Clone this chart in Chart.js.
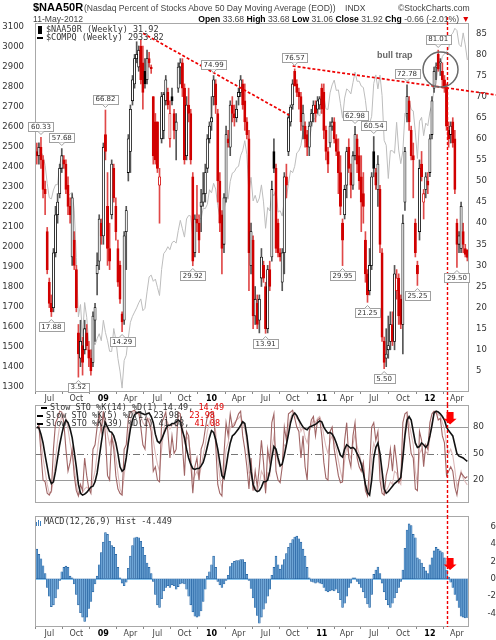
<!DOCTYPE html>
<html>
<head>
<meta charset="utf-8">
<title>$NAA50R weekly</title>
<script src="https://cdn.jsdelivr.net/npm/chart.js@4.4.1/dist/chart.umd.min.js"></script>
<style>
  html, body { margin: 0; padding: 0; background: #fff; }
  body { width: 496px; height: 640px; position: relative; overflow: hidden; }
  canvas { position: absolute; left: 0; top: 0; }
  .t { position: absolute; white-space: nowrap; z-index: 5; color: #333; }
  .hd { font: 8.6px "Liberation Sans", Arial, sans-serif; line-height: 10px; color: #444; }
  .hd b { color: #000; }
  .lg { font: 8.5px "DejaVu Sans Mono", monospace; line-height: 9px; color: #333; }
  .r { color: #e00000; }
  .dash { display: inline-block; width: 6px; height: 2px; background: #000; vertical-align: middle; margin-right: 3px; }
  .cdl { display: inline-block; width: 2px; height: 6px; border: 1px solid #000; background: #000; vertical-align: middle; margin: 0 4px 0 1px; }
  .hb { display: inline-block; width: 1px; background: #3d7fbf; margin-right: 1px; vertical-align: bottom; }
</style>
</head>
<body>
<canvas id="mainChart" width="496" height="640"></canvas>
<canvas id="stoChart" width="496" height="640"></canvas>
<canvas id="macdChart" width="496" height="640"></canvas>

<div class="t" style="left:33px;top:1px;font:bold 11px 'Liberation Sans',Arial,sans-serif;line-height:13px;color:#000">$NAA50R</div>
<div class="t hd" style="left:84px;top:3px">(Nasdaq Percent of Stocks Above 50 Day Moving Average (EOD))</div>
<div class="t hd" style="left:345px;top:3px">INDX</div>
<div class="t hd" style="left:398px;top:3px">&copy;StockCharts.com</div>
<div class="t hd" style="left:33px;top:14px">11-May-2012</div>
<div class="t hd" style="right:26px;top:14px"><b>Open</b> 33.68 <b>High</b> 33.68 <b>Low</b> 31.06 <b>Close</b> 31.92 <b>Chg</b> -0.66 (-2.01%) <span class="r">&#9660;</span></div>

<div class="t lg" style="left:37px;top:25px"><span class="cdl"></span>$NAA50R (Weekly) 31.92</div>
<div class="t lg" style="left:37px;top:33px"><span class="dash"></span>$COMPQ (Weekly) 2933.82</div>

<div class="t lg" style="left:41px;top:403px"><span class="dash"></span>Slow STO %K(14) %D(1) 14.49, <span class="r">14.49</span></div>
<div class="t lg" style="left:37px;top:411px"><span class="dash"></span>Slow STO %K(5) %D(1) 23.98, <span class="r">23.98</span></div>
<div class="t lg" style="left:37px;top:419px"><span class="dash"></span>Slow STO %K(39) %D(1) 41.08, <span class="r">41.08</span></div>

<div class="t lg" style="left:36px;top:517px"><span class="hb" style="height:4px"></span><span class="hb" style="height:6px"></span><span class="hb" style="height:5px;margin-right:3px"></span>MACD(12,26,9) Hist -4.449</div>

<script>
// weekly bars, first bar = week of 23-May-2008, last = 11-May-2012
const naaOpen = [
  57,56,58,55,48,38,26,21,20,33, 42,47,53,55,54,49,44,32,36,29,
  14,8,11,10,14,10,8,7,17,28, 31,40,37,61,44,34,42,53,44,34,
  30,18.5,17,38,52,57,69,73,79,77, 82,78,76,74,79,77,70,64,64,49,
  60,62,69,71,60,70,66,62,72,77, 78,72,56,68,66,51,33,41,40,44,
  45,47,53,60,64,70,73,66,50,42, 35,46,60,58,68,66,65,70,71,73,
  69,64,60,30,36,18,21,17,27,30, 25,15,29,32,57,53,40,33,26,33,
  51,57,64,68,76,73,71,70,63,63, 61,58,64,66,68,67,68,72,71,62,
  57,59,63,64,60,57,52,40,42,49, 58,52,49,56,60,56,51,47,36,28,
  24,30,57,52,48,48,33,12,8,10, 12,16,12,24,27,22,16,45,66,69,
  62,56,40,30,38,54,45,48,50,52, 61,72,77,80,78,76,74,72,62,61,
  64,60,40,35,34,38,34,33.68
];
const naaHigh = [
  59,59,60.33,56,50,39,27,23,34,44, 47,54,57.68,56,55,51,46,47,38,30,
  16,17,13,17,16,12,10,19,21,33, 42,41,59,66.82,52,40,55,54,46,36,
  31,19,38,44,61,68,75,80,83,82, 83.5,82,79,81,80.5,77.5,70,66,64,53,
  71,71,75,72,69,72,67,66,78,79, 79,73,70,72,67,52,42,49,42,48,
  52,54,61,64,70,74.99,74,67,52,43, 47,63,62,69,70,68,69,72,75,74,
  73,65,62,40,37,25,23,23,34,31, 26,30,31,50,60,54,41,34,34,52,
  54,66,68,74,76.57,74,72,71,68,64, 62,64,67,69,69,70,70,73,73,63,
  58,64,65,65,61,60,56,41,49,58, 60,54,57,62.98,61,58,56,52,38,29,
  34,52,60.54,53,56,49,34,13,15,18, 19,19,30,29,28,23,42,58,72.78,70,
  63,59,41,31,55,57,48,52,52,61, 70,77,78,81.01,79,78,75,73,64,64,
  65,62,41,38,45,40,35,33.68
];
const naaLow = [
  54,54,53,46,42,28,20,17.88,19,32, 40,46,52,53,47,42,40,30,29,19,
  3.52,6,4,9,10,6,4,6,12,23, 29,35,35,55,30,29,41,45,36,25,
  21,14.29,16,29,50,52,68,72,78,76, 73,67,72,73,77,75.5,54,54,52,40,
  59,60,68,67,58,68,60,55,71,73, 70,54,55,64,54,29.92,32,38,33,38,
  44,45,52,59,62,68,66,45,38,28, 33,45,58,56,64,63,64,68,70,67,
  62,60,24,28,15,16,15,14,25,26, 13.91,14,24,31,52,33,32,31,24,28,
  46,56,63,67,73,70,67,62,60,58, 56,56,63,64,64,66,67,66,60,55,
  52,58,62,59,56,47,42,29.95,41,46, 52,46,48,55,52,48,38,40,26,21.25,
  23,29,51,48,44,33,12,5.5,6,8, 10,11,10,22,16,15,9,43,64,62,
  55,46,32,25.25,36,50,41,46,47,51, 60,71,74,76,75,72,71,62,58,59,
  58,47,29.5,33,33,33,32,31.06
];
const naaClose = [
  56,58,55,48,47,29,21,19,33,42, 45,53,56,54,48,44,42,46,30,20,
  9,12,7,15,11,8,5,18,20,30, 41,37,58,57,34,31,54,46,38,26,
  22,16.6,37,43,60,67,74,79,80,81, 74,71,73,79,78,76.6,56,55,53,51,
  70,70.5,74,68,66,69,62,64,77,78, 72,55,68,66,55,31,41,40,36,45,
  47,52,60,63,65,74,68,50,40,34, 46,61,59,68,66,65,67,71,74,68,
  64,61,33,38,18,22,16,22,32,27, 15,29,25,48,53,34,33,32,33,51,
  49,65,67.5,73,72.5,71,70,64,66,60, 58,63,66,68,66,69,69.5,67,62,57,
  54,63,64,60,57,52,44,36,48,57, 53,49,56,61,54,50,45,44,28,23,
  30,51,53,49,54,35,13,7,9,11, 16,12,28,27,18,16,40,57,70,64,
  56,55,33,28,53,51,47,51,49,60, 69,76,77,76.5,78,74,72,63,60,63,
  59,48,35,37,44,35,32.58,31.92
];
const compqClose = [
  2445,2523,2475,2454,2407,2316,2245,2239,2283,2310, 2310,2414,2453,2415,2368,2255,2262,2273,2183,1947,
  1649,1711,1552,1721,1647,1516,1384,1536,1509,1540, 1565,1530,1632,1571,1530,1477,1476,1591,1534,1441,
  1378,1293,1431,1457,1545,1622,1652,1673,1694,1719, 1739,1680,1692,1774,1849,1858,1827,1838,1797,1756,
  1886,1965,1979,2000,1985,2020,2028,2018,2080,2132, 2090,2048,2139,2156,2154,2045,2112,2167,2146,2138,
  2194,2190,2212,2285,2269,2317,2288,2205,2147,2141, 2183,2243,2238,2327,2368,2375,2395,2402,2455,2481,
  2530,2461,2265,2347,2229,2257,2219,2243,2309,2224, 2092,2196,2179,2269,2255,2288,2173,2180,2153,2234,
  2243,2316,2381,2370,2402,2469,2479,2507,2579,2518, 2518,2535,2592,2637,2642,2665,2653,2703,2755,2689,
  2686,2769,2809,2833,2781,2784,2715,2643,2743,2789, 2780,2764,2820,2873,2827,2828,2803,2796,2732,2643,
  2616,2652,2816,2859,2789,2858,2756,2532,2507,2341, 2480,2480,2467,2622,2483,2415,2479,2667,2637,2737,
  2686,2679,2573,2441,2627,2647,2555,2618,2605,2674, 2710,2787,2816,2906,2904,2952,2964,2977,2988,3056,
  3068,3092,3081,3012,3000,3069,3009,2933.82
];
const stoK14 = [
  85,82,65,45,30,15,5,6,20,45, 65,82,92,95,90,78,62,50,35,15,
  3,5,6,10,12,10,8,20,30,50, 70,80,92,90,72,60,68,62,45,28,
  10,5,25,45,70,88,95,97,96,95, 92,85,82,88,90,85,65,50,38,30,
  55,75,88,85,78,82,84,80,92,93, 82,62,70,65,48,20,25,30,22,35,
  48,60,75,85,92,90,75,45,22,10, 30,55,62,80,82,85,88,90,93,85,
  78,62,28,30,10,12,8,15,30,25, 8,28,25,55,70,50,40,35,38,60,
  58,82,90,96,95,90,88,75,80,68, 62,75,82,88,85,90,92,85,70,58,
  50,65,70,62,55,42,30,20,42,58, 50,45,60,72,58,50,40,38,15,5,
  15,45,62,55,60,38,15,4,8,12, 18,15,30,28,18,15,50,78,92,85,
  72,60,30,15,50,55,45,52,50,68, 85,95,96,94,93,85,78,60,50,55,
  48,32,12,20,30,22,18,14.49
];
const stoK5 = [
  78,82,50,20,18,5,3,8,55,85, 90,98,97,85,55,30,40,55,25,8,
  2,15,8,45,25,10,5,55,60,80, 95,75,98,70,25,20,70,55,25,10,
  5,3,55,60,90,97,98,99,95,97, 80,60,55,90,85,75,30,35,20,18,
  85,90,97,75,45,70,50,55,97,95, 60,25,75,70,40,5,35,45,20,55,
  62,78,92,96,97,95,60,15,5,2, 50,85,70,95,80,82,88,95,98,70,
  55,35,10,45,8,30,12,35,65,40, 5,55,40,85,95,30,20,17,35,80,
  65,95,97,99,90,80,75,45,70,35, 20,75,88,92,70,88,90,70,40,22,
  20,75,80,55,40,25,17,18,65,85, 45,35,70,85,45,35,30,40,8,2,
  35,80,85,65,75,20,5,3,25,35, 55,30,60,40,17,20,85,95,97,70,
  50,45,10,8,75,65,35,60,55,85, 95,98,97,88,90,70,62,25,30,35,
  30,12,3,20,28,25,22,23.98
];
const stoK39 = [
  80,79,72,62,48,35,22,16,18,30, 45,60,72,82,88,85,78,68,52,35,
  15,5,3,4,6,9,12,13,18,28, 45,62,78,85,80,75,74,70,62,50,
  35,30,32,45,62,78,88,94,96,97, 96,95,94,95,96,92,85,72,64,62,
  66,72,78,82,82,84,84,86,88,86, 76,68,55,45,38,33,32,33,33,36,
  40,48,58,68,76,74,66,55,40,25, 22,35,50,62,70,72,75,78,82,86,
  84,70,50,30,15,9,7,8,12,18, 18,20,30,45,58,55,45,36,38,48,
  60,72,85,93,96,93,88,84,80,78, 77,80,81,82,83,85,87,86,80,76,
  73,74,72,68,62,55,48,46,55,60, 58,56,57,55,50,45,38,28,15,6,
  3,20,45,57,62,50,30,10,5,7, 10,13,16,18,20,23,45,70,88,92,
  88,75,62,57,58,62,60,57,60,70, 82,96,98,97,95,92,88,80,76,73,
  70,60,50,47,46,45,43,41.08
];
const macdHist = [
  3.4,2.8,2.3,1.5,0.6,-1.0,-2.0,-3.2,-3.0,-2.2, -1.2,-0.2,0.8,1.3,1.45,1.3,0.3,0.1,-0.6,-1.8,
  -3.0,-3.9,-4.4,-4.9,-4.4,-3.4,-2.6,-1.5,-0.6,0.3, 1.6,3.0,4.2,5.3,5.1,4.3,3.8,3.6,2.8,1.3,
  0.1,-0.5,-0.8,-0.4,1.2,2.6,3.8,4.7,4.8,4.7, 4.3,3.6,2.7,1.8,1.3,0.6,-0.3,-1.8,-3.0,-3.3,
  -2.3,-1.4,-1.0,-0.8,-1.0,-0.7,-0.8,-1.2,-0.9,-0.6, -0.5,-0.6,-1.2,-2.0,-3.0,-3.8,-4.3,-4.4,-4.3,-3.7,
  -2.6,-1.2,0.3,0.8,1.6,2.6,1.3,-0.3,-0.7,-1.0, -0.6,-0.2,0.4,1.4,1.8,2.0,2.1,2.1,2.2,2.2,
  1.9,0.5,-0.2,-1.1,-2.2,-3.3,-4.2,-5.1,-4.4,-3.5, -2.8,-2.0,-1.2,0.4,1.3,2.6,1.6,1.1,1.6,2.2,
  2.9,3.6,4.1,4.5,4.8,4.9,4.6,4.2,3.4,2.6, 1.3,0.1,-0.3,-0.4,-0.5,-0.4,-0.5,-0.6,-1.0,-1.4,
  -1.5,-1.4,-1.3,-1.4,-1.2,-1.6,-2.4,-3.3,-2.8,-2.0, -1.0,-0.5,0.1,0.1,-0.3,-0.6,-1.0,-1.5,-2.2,-2.9,
  -3.3,-1.8,0.5,1.0,1.35,0.6,-0.5,-1.5,-2.4,-3.0, -3.3,-2.8,-2.2,-1.6,-1.0,-0.3,1.0,3.5,5.6,6.3,
  6.1,5.1,4.7,2.4,2.2,1.8,1.3,0.9,0.6,1.6, 2.4,3.2,3.6,3.4,3.2,3.0,2.4,1.0,0.2,-0.4,
  -1.0,-1.8,-2.5,-3.3,-4.3,-4.4,-4.5,-4.449
];

// x axis: week index of first bar in each quarter month, and its label
const tickWeeks  = [6, 19, 32, 45, 58, 71, 84, 97, 110, 123, 137, 149, 162, 176, 189, 202];
const tickLabels = ['Jul','Oct','09','Apr','Jul','Oct','10','Apr','Jul','Oct','11','Apr','Jul','Oct','12','Apr'];
const naaTicks   = [5,10,15,20,25,30,35,40,45,50,55,60,65,70,75,80,85];
const compqTicks = [1300,1400,1500,1600,1700,1800,1900,2000,2100,2200,2300,2400,2500,2600,2700,2800,2900,3000,3100];
const stoTicks   = [20, 50, 80];
const macdTicks  = [-4, -2, 0, 2, 4, 6];

// annotations (week index, value)
const highMarks = [2, 12, 33, 85, 124, 153, 162, 178, 193];
const lowMarks  = [7, 20, 41, 75, 110, 147, 159, 167, 183, 202];
const trendLines = [[51.1, 85.0, 121.4, 65.6], [123.0, 77.25, 220.8, 70.4]];
const markWeek = 197;
const trapCircle = [194.1, 76.4];
const trapText = [172.1, 79.8];
const stoArrow = [198.7, 97, 83];
const macdArrow = [198.7, 2.4, 1.0];

const X_MIN = -0.87, X_MAX = 207.8;
Chart.defaults.font.family = '"DejaVu Sans", Verdana, sans-serif';
Chart.defaults.animation = false;

const isYear = s => /^\d/.test(s);
const plain = v => String(v);

function xAxis(showLabels) {
  return {
    type: 'linear', min: X_MIN, max: X_MAX, offset: false,
    display: showLabels,
    afterBuildTicks: s => { s.ticks = tickWeeks.map(v => ({ value: v })); },
    afterFit: s => { s.height = 13; },
    grid: { display: true, drawOnChartArea: false, drawTicks: true, tickLength: 2, color: '#888' },
    border: { display: false },
    ticks: {
      autoSkip: false, maxRotation: 0, minRotation: 0, padding: 0,
      callback: (v, i) => tickLabels[i],
      font: c => ({ size: 8, weight: isYear(tickLabels[c.index]) ? 'bold' : 'normal' }),
      color: c => isYear(tickLabels[c.index]) ? '#000' : '#444'
    }
  };
}

function markerLine(chart, y0, y1) {
  const { ctx, scales: { x } } = chart;
  const mx = Math.round(x.getPixelForValue(markWeek)) + 0.5;
  ctx.save();
  ctx.strokeStyle = '#ee0000'; ctx.lineWidth = 1.4; ctx.setLineDash([3, 2]);
  ctx.beginPath(); ctx.moveTo(mx, y0); ctx.lineTo(mx, y1); ctx.stroke();
  ctx.restore();
}

function frame(chart) {
  const { ctx, chartArea: a } = chart;
  ctx.save();
  ctx.strokeStyle = '#a8a8a8'; ctx.lineWidth = 1;
  ctx.strokeRect(a.left + 0.5, a.top + 0.5, a.right - a.left - 1, a.bottom - a.top - 1);
  ctx.restore();
}

function downArrow(chart, spec) {
  const { ctx, scales: { x, y } } = chart;
  const cx = x.getPixelForValue(spec[0]);
  const top = y.getPixelForValue(spec[1]), bottom = y.getPixelForValue(spec[2]);
  const headTop = bottom - (bottom - top) * 0.45;
  ctx.save();
  ctx.fillStyle = '#ff0000';
  ctx.beginPath();
  ctx.moveTo(cx - 3.5, top); ctx.lineTo(cx + 3.5, top); ctx.lineTo(cx + 3.5, headTop);
  ctx.lineTo(cx + 6.5, headTop); ctx.lineTo(cx, bottom); ctx.lineTo(cx - 6.5, headTop);
  ctx.lineTo(cx - 3.5, headTop); ctx.closePath(); ctx.fill();
  ctx.restore();
}

// candle colours: red if close below previous close, hollow if close above open
const upWeek = naaClose.map((c, i) => c >= (i ? naaClose[i - 1] : naaOpen[i]));
const bodyFill = naaClose.map((c, i) => c >= naaOpen[i] ? '#ffffff' : (upWeek[i] ? '#000000' : '#d10000'));
const bodyEdge = upWeek.map(u => u ? '#000000' : '#d10000');
const wickColor = upWeek.map(u => u ? '#555555' : '#e04848');

const mainDecor = {
  id: 'mainDecor',
  afterDatasetsDraw(chart) {
    const { ctx, scales: { x, y } } = chart;
    frame(chart);
    ctx.save();
    ctx.strokeStyle = '#ee0000'; ctx.lineWidth = 1.7; ctx.setLineDash([3, 2]);
    trendLines.forEach(t => {
      ctx.beginPath();
      ctx.moveTo(x.getPixelForValue(t[0]), y.getPixelForValue(t[1]));
      ctx.lineTo(x.getPixelForValue(t[2]), y.getPixelForValue(t[3]));
      ctx.stroke();
    });
    ctx.restore();
    markerLine(chart, 17, 405);

    // bull trap circle and note
    ctx.save();
    ctx.strokeStyle = '#6a6a6a'; ctx.lineWidth = 1.5;
    ctx.beginPath();
    ctx.arc(x.getPixelForValue(trapCircle[0]), y.getPixelForValue(trapCircle[1]), 17.5, 0, Math.PI * 2);
    ctx.stroke();
    ctx.fillStyle = '#666';
    ctx.font = 'bold 9px "Liberation Sans", Arial, sans-serif';
    ctx.textAlign = 'center'; ctx.textBaseline = 'middle';
    ctx.fillText('bull trap', x.getPixelForValue(trapText[0]), y.getPixelForValue(trapText[1]));
    ctx.restore();

    // value flags on extremes
    ctx.save();
    ctx.font = '7px "DejaVu Sans", sans-serif';
    ctx.textAlign = 'center'; ctx.textBaseline = 'middle';
    const flag = (i, v, above) => {
      const px = x.getPixelForValue(i), py = y.getPixelForValue(v);
      const txt = v.toFixed(2);
      const w = Math.round(ctx.measureText(txt).width + 5), h = 9;
      const cy = above ? py - 11 : py + 10;
      const bx = Math.round(px - w / 2) + 0.5, by = Math.round(cy - h / 2) + 0.5;
      ctx.fillStyle = '#fff'; ctx.strokeStyle = '#a0a0a0'; ctx.lineWidth = 1;
      ctx.fillRect(bx, by, w, h); ctx.strokeRect(bx, by, w, h);
      ctx.beginPath();
      if (above) { ctx.moveTo(px - 3, by + h); ctx.lineTo(px, by + h + 3); ctx.lineTo(px + 3, by + h); }
      else { ctx.moveTo(px - 3, by); ctx.lineTo(px, by - 3); ctx.lineTo(px + 3, by); }
      ctx.fill(); ctx.stroke();
      ctx.fillStyle = '#333';
      ctx.fillText(txt, px, cy + 0.5);
    };
    highMarks.forEach(i => flag(i, naaHigh[i], true));
    lowMarks.forEach(i => flag(i, naaLow[i], false));
    ctx.restore();
  }
};

new Chart(document.getElementById('mainChart'), {
  type: 'bar',
  data: {
    datasets: [
      {
        type: 'bar', label: 'body', order: 1, grouped: false, yAxisID: 'y',
        data: naaOpen.map((o, i) => ({ x: i, y: [Math.min(o, naaClose[i]), Math.max(o, naaClose[i])] })),
        backgroundColor: bodyFill, borderColor: bodyEdge, borderWidth: 0.8, borderSkipped: false,
        barThickness: 2.3, minBarLength: 1
      },
      {
        type: 'bar', label: 'wick', order: 2, grouped: false, yAxisID: 'y',
        data: naaLow.map((l, i) => ({ x: i, y: [l, naaHigh[i]] })),
        backgroundColor: wickColor, borderWidth: 0, barThickness: 1
      },
      {
        type: 'line', label: '$COMPQ', order: 3, yAxisID: 'yL',
        data: compqClose.map((v, i) => ({ x: i, y: v })),
        borderColor: '#bdbdbd', borderWidth: 1, pointRadius: 0, tension: 0
      }
    ]
  },
  options: {
    responsive: false, animation: false, events: [],
    layout: { padding: { top: 23, bottom: 235, left: 0, right: 0 } },
    plugins: { legend: { display: false }, tooltip: { enabled: false } },
    scales: {
      x: xAxis(true),
      yL: {
        position: 'left', min: 1273.5, max: 3118.5,
        afterBuildTicks: s => { s.ticks = compqTicks.map(v => ({ value: v })); },
        afterFit: s => { s.width = 35; },
        grid: { display: false, drawTicks: false }, border: { display: false },
        ticks: { padding: 11, font: { size: 8.5 }, color: '#333', callback: plain }
      },
      y: {
        position: 'right', min: 0, max: 87.44,
        afterBuildTicks: s => { s.ticks = naaTicks.map(v => ({ value: v })); },
        afterFit: s => { s.width = 27; },
        grid: { display: false, drawTicks: false }, border: { display: false },
        ticks: { padding: 7, font: { size: 8.5 }, color: '#333', callback: plain }
      }
    }
  },
  plugins: [mainDecor]
});

const stoDecor = {
  id: 'stoDecor',
  beforeDatasetsDraw(chart) {
    const { ctx, chartArea: a, scales: { y } } = chart;
    ctx.save();
    ctx.lineWidth = 1;
    [20, 80].forEach(v => {
      const py = Math.round(y.getPixelForValue(v)) + 0.5;
      ctx.strokeStyle = '#9a9a9a';
      ctx.beginPath(); ctx.moveTo(a.left, py); ctx.lineTo(a.right, py); ctx.stroke();
    });
    const p50 = Math.round(y.getPixelForValue(50)) + 0.5;
    ctx.strokeStyle = '#777'; ctx.setLineDash([7, 3, 1, 3]);
    ctx.beginPath(); ctx.moveTo(a.left, p50); ctx.lineTo(a.right, p50); ctx.stroke();
    ctx.restore();
  },
  afterDatasetsDraw(chart) {
    frame(chart);
    markerLine(chart, 405, 516);
    downArrow(chart, stoArrow);
  }
};

new Chart(document.getElementById('stoChart'), {
  type: 'line',
  data: {
    datasets: [
      { label: '%K(39)', data: stoK39.map((v, i) => ({ x: i, y: v })), borderColor: '#111', borderWidth: 1.6, pointRadius: 0, tension: 0, order: 1 },
      { label: '%K(5)', data: stoK5.map((v, i) => ({ x: i, y: v })), borderColor: '#a06565', borderWidth: 1.1, pointRadius: 0, tension: 0, order: 2 },
      { label: '%K(14)', data: stoK14.map((v, i) => ({ x: i, y: v })), borderColor: '#dcb9b9', borderWidth: 1.1, pointRadius: 0, tension: 0, order: 3 }
    ]
  },
  options: {
    responsive: false, animation: false, events: [],
    layout: { padding: { top: 405, bottom: 124, left: 35, right: 0 } },
    plugins: { legend: { display: false }, tooltip: { enabled: false } },
    scales: {
      x: xAxis(false),
      y: {
        position: 'right', min: -6, max: 105,
        afterBuildTicks: s => { s.ticks = stoTicks.map(v => ({ value: v })); },
        afterFit: s => { s.width = 27; },
        grid: { display: false, drawTicks: false }, border: { display: false },
        ticks: { padding: 4, font: { size: 8.5 }, color: '#333', callback: plain }
      }
    }
  },
  plugins: [stoDecor]
});

const macdDecor = {
  id: 'macdDecor',
  beforeDatasetsDraw(chart) {
    const { ctx, chartArea: a, scales: { y } } = chart;
    const p0 = Math.round(y.getPixelForValue(0)) + 0.5;
    ctx.save();
    ctx.strokeStyle = '#86c3ee'; ctx.lineWidth = 1;
    ctx.beginPath(); ctx.moveTo(a.left, p0); ctx.lineTo(a.right, p0); ctx.stroke();
    ctx.restore();
  },
  afterDatasetsDraw(chart) {
    frame(chart);
    markerLine(chart, 516, 627);
    downArrow(chart, macdArrow);
  }
};

new Chart(document.getElementById('macdChart'), {
  type: 'bar',
  data: {
    datasets: [{
      label: 'MACD Hist',
      data: macdHist.map((v, i) => ({ x: i, y: v })),
      backgroundColor: '#6ea5d6', borderColor: '#1f5d9c', borderWidth: 0.6, borderSkipped: false,
      barThickness: 1.9
    }]
  },
  options: {
    responsive: false, animation: false, events: [],
    layout: { padding: { top: 516, bottom: 0, left: 35, right: 0 } },
    plugins: { legend: { display: false }, tooltip: { enabled: false } },
    scales: {
      x: xAxis(true),
      y: {
        position: 'right', min: -5.54, max: 7.21,
        afterBuildTicks: s => { s.ticks = macdTicks.map(v => ({ value: v })); },
        afterFit: s => { s.width = 27; },
        grid: { display: false, drawTicks: false }, border: { display: false },
        ticks: { padding: 2, crossAlign: 'far', font: { size: 8.5 }, color: '#333', callback: plain }
      }
    }
  },
  plugins: [macdDecor]
});
</script>
</body>
</html>
